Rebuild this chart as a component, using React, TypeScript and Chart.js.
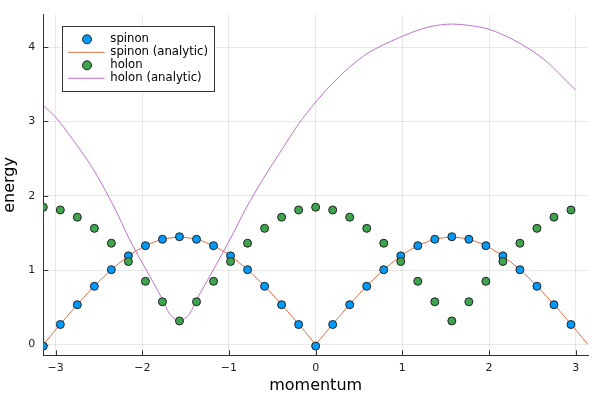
import React, { useEffect, useRef } from 'react'
import { Chart, LineController, LineElement, PointElement, LinearScale } from 'chart.js'

Chart.register(LineController, LineElement, PointElement, LinearScale)

// momentum grid of the sampled points
const momentum = [
  -3.1416, -2.9452, -2.7489, -2.5525, -2.3562, -2.1598, -1.9635, -1.7671,
  -1.5708, -1.3744, -1.1781, -0.9817, -0.7854, -0.589, -0.3927, -0.1963,
  0, 0.1963, 0.3927, 0.589, 0.7854, 0.9817, 1.1781, 1.3744,
  1.5708, 1.7671, 1.9635, 2.1598, 2.3562, 2.5525, 2.7489, 2.9452
]
const spinonEnergy = [
  -0.02, 0.27, 0.536, 0.784, 1.007, 1.193, 1.33, 1.416,
  1.45, 1.416, 1.33, 1.193, 1.007, 0.784, 0.536, 0.27,
  -0.02, 0.27, 0.536, 0.784, 1.007, 1.193, 1.33, 1.416,
  1.45, 1.416, 1.33, 1.193, 1.007, 0.784, 0.536, 0.27
]
const holonEnergy = [
  1.847, 1.81, 1.713, 1.563, 1.363, 1.117, 0.851, 0.576,
  0.318, 0.576, 0.851, 1.117, 1.363, 1.563, 1.713, 1.81,
  1.847, 1.81, 1.713, 1.563, 1.363, 1.117, 0.851, 0.576,
  0.318, 0.576, 0.851, 1.117, 1.363, 1.563, 1.713, 1.81
]

// analytic curves
const spinonLineK = [
  -3.1416, -2.9452, -2.7489, -2.5525, -2.3562, -2.1598, -1.9635, -1.7671,
  -1.5708, -1.3744, -1.1781, -0.9817, -0.7854, -0.589, -0.3927, -0.1963,
  0, 0.1963, 0.3927, 0.589, 0.7854, 0.9817, 1.1781, 1.3744,
  1.5708, 1.7671, 1.9635, 2.1598, 2.3562, 2.5525, 2.7489, 2.9452, 3.1416
]
const spinonLineE = [
  0, 0.275, 0.54, 0.79, 1.01, 1.195, 1.335, 1.42,
  1.45, 1.42, 1.335, 1.195, 1.01, 0.79, 0.54, 0.275,
  0, 0.275, 0.54, 0.79, 1.01, 1.195, 1.335, 1.42,
  1.45, 1.42, 1.335, 1.195, 1.01, 0.79, 0.54, 0.275, 0
]
const holonLineK = [
  -3.14, -3.0, -2.81, -2.61, -2.42, -2.27, -2.15, -2.0, -1.88, -1.76,
  -1.69, -1.63, -1.57, -1.51, -1.45, -1.38, -1.26, -1.15, -1.0, -0.88,
  -0.8, -0.61, -0.38, -0.2, 0.0, 0.2, 0.39, 0.59, 0.78, 0.97,
  1.16, 1.32, 1.45, 1.57, 1.78, 2.0, 2.15, 2.28, 2.47, 2.67, 2.82, 3.0
]
const holonLineE = [
  3.21, 3.06, 2.77, 2.44, 2.06, 1.72, 1.42, 1.1, 0.85, 0.59,
  0.42, 0.35, 0.315, 0.35, 0.42, 0.59, 0.84, 1.07, 1.39, 1.66,
  1.84, 2.22, 2.64, 2.96, 3.26, 3.52, 3.73, 3.91, 4.03, 4.13,
  4.22, 4.275, 4.3, 4.31, 4.29, 4.24, 4.17, 4.1, 3.97, 3.8, 3.63, 3.42
]

const xTicks = [-3, -2, -1, 0, 1, 2, 3]
const yTicks = [0, 1, 2, 3, 4]

const FONT = 'DejaVu Sans'
const AXIS = '#333333'

const fmt = (v: number) => (v < 0 ? '\u2212' + Math.abs(v) : String(v))
const pairs = (xs: number[], ys: number[]) => xs.map((x, i) => ({ x, y: ys[i] }))

// Plots-style ticks pointing into the plot area
const inwardTicks = {
  id: 'inwardTicks',
  beforeDatasetsDraw(chart: any) {
    const { ctx, chartArea, scales } = chart
    ctx.save()
    ctx.strokeStyle = AXIS
    ctx.lineWidth = 1
    ctx.beginPath()
    xTicks.forEach(v => {
      const px = Math.round(scales.x.getPixelForValue(v)) + 0.5
      ctx.moveTo(px, chartArea.bottom)
      ctx.lineTo(px, chartArea.bottom - 5)
    })
    yTicks.forEach(v => {
      const py = Math.round(scales.y.getPixelForValue(v)) + 0.5
      ctx.moveTo(chartArea.left, py)
      ctx.lineTo(chartArea.left + 5, py)
    })
    ctx.stroke()
    ctx.restore()
  }
}

// legend box in the top-left corner of the plot area
const legendBox = {
  id: 'legendBox',
  afterDraw(chart: any) {
    const { ctx, chartArea } = chart
    const x0 = Math.round(chartArea.left + 18.4)
    const y0 = Math.round(chartArea.top + 11.3)
    const w = 152, h = 65
    ctx.save()
    ctx.fillStyle = '#ffffff'
    ctx.fillRect(x0, y0, w, h)
    ctx.strokeStyle = AXIS
    ctx.lineWidth = 1
    ctx.strokeRect(x0 + 0.5, y0 + 0.5, w, h)
    ctx.font = `11.7px "${FONT}"`
    ctx.textBaseline = 'middle'
    chart.data.datasets.forEach((ds: any, i: number) => {
      const cy = y0 + 13.3 + i * 13
      if (ds.showLine) {
        ctx.strokeStyle = ds.borderColor
        ctx.lineWidth = 1
        ctx.beginPath()
        ctx.moveTo(x0 + 6, cy)
        ctx.lineTo(x0 + 42.6, cy)
        ctx.stroke()
      } else {
        ctx.beginPath()
        ctx.arc(x0 + 25, cy, 4.5, 0, Math.PI * 2)
        ctx.fillStyle = ds.backgroundColor
        ctx.fill()
        ctx.strokeStyle = '#222'
        ctx.stroke()
      }
      ctx.fillStyle = '#000'
      ctx.fillText(ds.label, x0 + 48.3, cy)
    })
    ctx.restore()
  }
}

export default function App() {
  const canvasRef = useRef<HTMLCanvasElement | null>(null)

  useEffect(() => {
    const el = canvasRef.current
    if (!el) return

    const chart = new Chart(el, {
      type: 'line',
      data: {
        datasets: [
          {
            label: 'spinon',
            data: pairs(momentum, spinonEnergy),
            showLine: false,
            backgroundColor: '#009AFA',
            borderColor: '#222',
            pointBackgroundColor: '#009AFA',
            pointBorderColor: '#222',
            pointBorderWidth: 1,
            pointRadius: 4,
            order: 2
          },
          {
            label: 'spinon (analytic)',
            data: pairs(spinonLineK, spinonLineE),
            showLine: true,
            borderColor: '#E36F47',
            borderWidth: 1,
            pointRadius: 0,
            order: 4
          },
          {
            label: 'holon',
            data: pairs(momentum, holonEnergy),
            showLine: false,
            backgroundColor: '#3EA44E',
            borderColor: '#222',
            pointBackgroundColor: '#3EA44E',
            pointBorderColor: '#222',
            pointBorderWidth: 1,
            pointRadius: 4,
            order: 1
          },
          {
            label: 'holon (analytic)',
            data: pairs(holonLineK, holonLineE),
            showLine: true,
            cubicInterpolationMode: 'monotone',
            borderColor: '#C371D2',
            borderWidth: 1,
            pointRadius: 0,
            order: 3
          }
        ]
      },
      options: {
        responsive: false,
        animation: false,
        devicePixelRatio: 1,
        layout: { padding: { top: 11.7, right: 12, left: 0, bottom: 0 } },
        plugins: {
          legend: { display: false },
          tooltip: { enabled: false }
        },
        scales: {
          x: {
            type: 'linear',
            min: -Math.PI,
            max: Math.PI,
            afterBuildTicks: (s: any) => { s.ticks = xTicks.map(value => ({ value })) },
            afterFit: (s: any) => { s.height = 44.7 },
            grid: { color: 'rgba(0,0,0,0.09)', drawTicks: false },
            border: { color: AXIS, width: 1 },
            ticks: {
              padding: 6,
              color: '#222',
              font: { family: FONT, size: 11 },
              callback: (v: any) => fmt(Number(v))
            },
            title: {
              display: true,
              text: 'momentum',
              color: '#000',
              font: { family: FONT, size: 16, lineHeight: 1.2 },
              padding: { top: 0, bottom: 4.7 }
            }
          },
          y: {
            type: 'linear',
            min: -0.144,
            max: 4.437,
            afterBuildTicks: (s: any) => { s.ticks = yTicks.map(value => ({ value })) },
            afterFit: (s: any) => { s.width = 43.3 },
            grid: { color: 'rgba(0,0,0,0.09)', drawTicks: false },
            border: { color: AXIS, width: 1 },
            ticks: {
              padding: 8,
              color: '#222',
              font: { family: FONT, size: 11 },
              callback: (v: any) => fmt(Number(v))
            },
            title: {
              display: true,
              text: 'energy',
              color: '#000',
              font: { family: FONT, size: 16, lineHeight: 1.2 },
              padding: { top: 0, bottom: 0 }
            }
          }
        }
      },
      plugins: [inwardTicks, legendBox]
    })

    return () => chart.destroy()
  }, [])

  return (
    <div style={{ position: 'fixed', left: 0, top: 0, width: 600, height: 400, background: '#fff' }}>
      <canvas ref={canvasRef} width={600} height={400} style={{ display: 'block' }}></canvas>
    </div>
  )
}
